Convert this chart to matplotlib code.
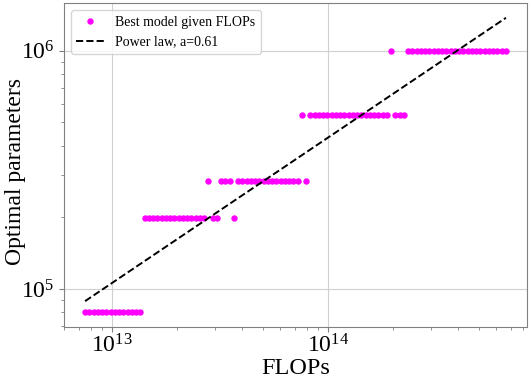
import matplotlib
matplotlib.use("Agg")
import matplotlib.pyplot as plt
import numpy as np

# compute budgets (log-spaced)
flops_min = 7.5e12
flops_max = 6.65e14
n_points = 100

# parameter count of the best model at each budget (5 model sizes)
model_sizes = [8.0e4, 1.98e5, 2.84e5, 5.38e5, 1.0e6]
# index into model_sizes for each of the 100 budgets
best_idx = ([0] * 14 + [1] * 15 + [2, 1, 1, 2, 2, 2, 1] + [2] * 15 + [3, 2]
            + [3] * 19 + [4, 3, 3, 3] + [4] * 24)

# fitted power law N = k * C^a
fit_a = 0.61
fit_log10_k = -2.904

plt.rcParams['font.family'] = ['Liberation Serif', 'DejaVu Serif']
plt.rcParams['mathtext.fontset'] = 'stix'

flops = np.logspace(np.log10(flops_min), np.log10(flops_max), n_points)
params = np.array(model_sizes)[best_idx]
fit_line = 10 ** fit_log10_k * flops ** fit_a

fig = plt.figure(figsize=(5.31, 3.85), dpi=100)
ax = fig.add_axes([0.1205, 0.1506, 0.872, 0.8414])

ax.plot(flops, params, 'o', color='magenta', markersize=3.6, label='Best model given FLOPs')
ax.plot(flops, fit_line, '--', color='black', linewidth=1.4, label='Power law, a=%.2f' % fit_a)

ax.set_xscale('log')
ax.set_yscale('log')
ax.grid(True, which='major', color='#d0d0d0', linewidth=0.8)
ax.set_axisbelow(True)

for s in ax.spines.values():
    s.set_color('#808080')
ax.tick_params(which='both', colors='#808080', labelcolor='black', labelsize=17)
ax.tick_params(axis='x', pad=2)

ax.set_xlabel('FLOPs', fontsize=17.5, labelpad=0)
ax.set_ylabel('Optimal parameters', fontsize=17)
ax.yaxis.set_label_coords(-0.083, 0.48)
ax.legend(loc='upper left', fontsize=10)

fig.savefig('out.png', dpi=100)
